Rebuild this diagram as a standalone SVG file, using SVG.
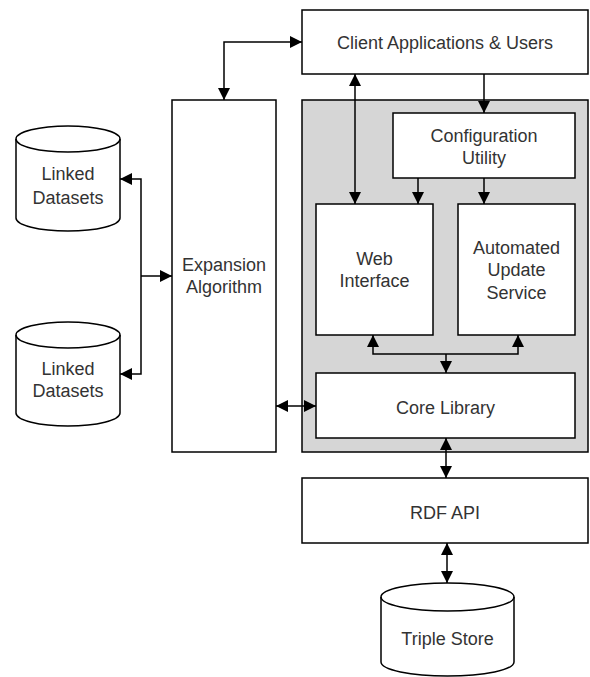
<svg xmlns="http://www.w3.org/2000/svg" width="590" height="677" viewBox="0 0 590 677">
<defs>
<style>
.box{fill:#fff;stroke:#000;stroke-width:1.5}
.grp{fill:#d6d6d6;stroke:#000;stroke-width:1.5}
.ln{fill:none;stroke:#000;stroke-width:1.5}
text{font-family:"Liberation Sans",Arial,sans-serif;font-size:18px;fill:#333;text-anchor:middle}
</style>
<marker id="ah" markerWidth="12" markerHeight="12" refX="10" refY="5" orient="auto-start-reverse" markerUnits="userSpaceOnUse" viewBox="0 0 10 10">
<path d="M0,0 L10,5 L0,10 Z" fill="#000"/>
</marker>
</defs>
<rect width="590" height="677" fill="#fff"/>
<g id="core-group"><rect class="grp" x="302" y="100" width="286" height="352"/></g>
<g id="client"><rect class="box" x="302" y="10" width="286" height="64"/><text x="445" y="48.5">Client Applications &amp; Users</text></g>
<g id="config"><rect class="box" x="393" y="113" width="182" height="65"/><text x="484" y="141.5">Configuration</text><text x="484" y="163.5">Utility</text></g>
<g id="web"><rect class="box" x="316" y="204" width="117" height="131"/><text x="374.5" y="264.5">Web</text><text x="374.5" y="286.5">Interface</text></g>
<g id="auto"><rect class="box" x="458" y="204" width="117" height="131"/><text x="516.5" y="253.5">Automated</text><text x="516.5" y="275.5">Update</text><text x="516.5" y="298.5">Service</text></g>
<g id="corelib"><rect class="box" x="316" y="373" width="259" height="65"/><text x="445.5" y="413.5">Core Library</text></g>
<g id="expansion"><rect class="box" x="172" y="100" width="104" height="352"/><text x="224" y="270.5">Expansion</text><text x="224" y="292.5">Algorithm</text></g>
<g id="rdf"><rect class="box" x="302" y="478" width="286" height="65"/><text x="445" y="518.5">RDF API</text></g>
<g id="linked1"><path class="box" d="M16,139 A52,13 0 0 1 120,139 L120,218 A52,13 0 0 1 16,218 Z"/><path class="ln" d="M16,139 A52,13 0 0 0 120,139"/><text x="68" y="179.5">Linked</text><text x="68" y="203.5">Datasets</text></g>
<g id="linked2"><path class="box" d="M16,335 A52,13 0 0 1 120,335 L120,413 A52,13 0 0 1 16,413 Z"/><path class="ln" d="M16,335 A52,13 0 0 0 120,335"/><text x="68" y="374.5">Linked</text><text x="68" y="396.5">Datasets</text></g>
<g id="triple"><path class="box" d="M381,597 A66.5,14 0 0 1 514,597 L514,662 A66.5,14 0 0 1 381,662 Z"/><path class="ln" d="M381,597 A66.5,14 0 0 0 514,597"/><text x="447.5" y="644.5">Triple Store</text></g>
<g id="connectors">
<path class="ln" d="M224,100 L224,42 L302,42" marker-start="url(#ah)" marker-end="url(#ah)"/>
<path class="ln" d="M355,74 L355,204" marker-start="url(#ah)" marker-end="url(#ah)"/>
<path class="ln" d="M484,74 L484,113" marker-end="url(#ah)"/>
<path class="ln" d="M418,178 L418,204" marker-end="url(#ah)"/>
<path class="ln" d="M484,178 L484,204" marker-end="url(#ah)"/>
<path class="ln" d="M373,335 L373,354 L518,354 L518,335" marker-start="url(#ah)" marker-end="url(#ah)"/>
<path class="ln" d="M446,354 L446,373" marker-end="url(#ah)"/>
<path class="ln" d="M446,438 L446,478" marker-start="url(#ah)" marker-end="url(#ah)"/>
<path class="ln" d="M447,543 L447,583" marker-start="url(#ah)" marker-end="url(#ah)"/>
<path class="ln" d="M276,406 L316,406" marker-start="url(#ah)" marker-end="url(#ah)"/>
<path class="ln" d="M120,179 L141,179 L141,374 L120,374" marker-start="url(#ah)" marker-end="url(#ah)"/>
<path class="ln" d="M141,276 L172,276" marker-end="url(#ah)"/>
</g>
</svg>
